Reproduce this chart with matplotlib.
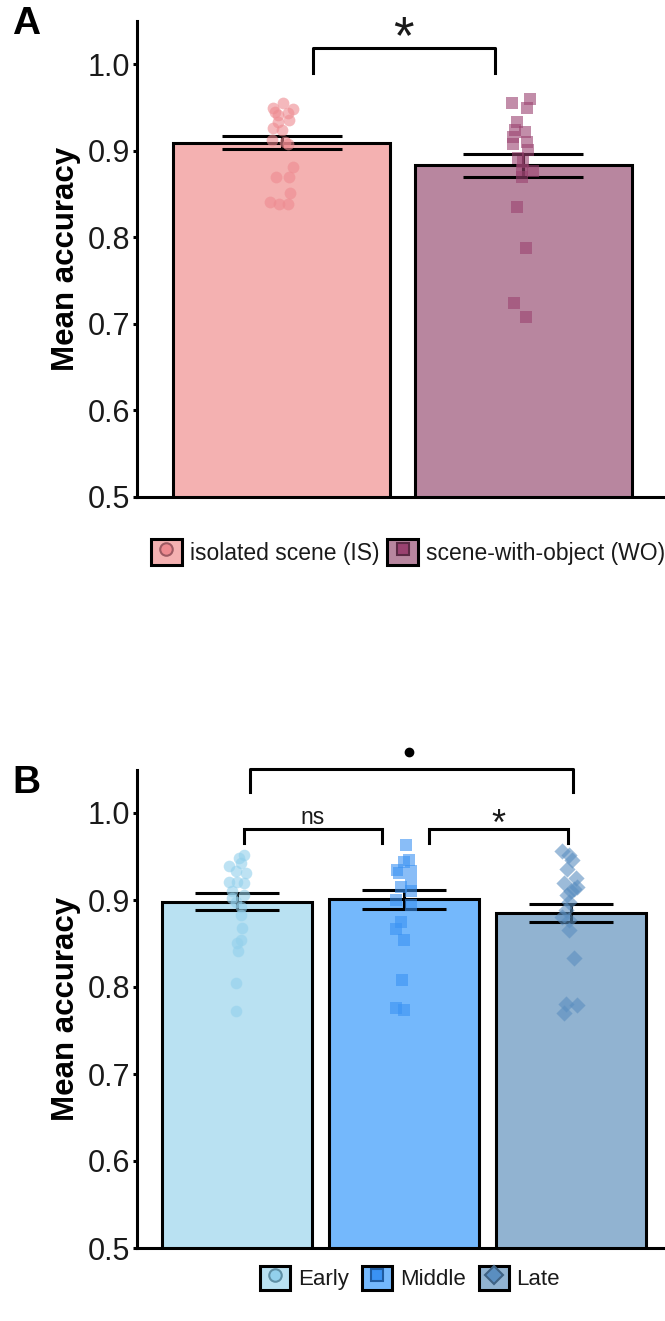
import matplotlib
matplotlib.use("Agg")
import matplotlib.pyplot as plt
from matplotlib.patches import Patch
from matplotlib.lines import Line2D

plt.rcParams['font.family'] = ['Liberation Sans', 'DejaVu Sans']

# ---------------- Data ----------------
# Panel A
a_labels = ["isolated scene (IS)", "scene-with-object (WO)"]
a_means = [0.909, 0.883]
a_err = [0.0075, 0.013]
a_is = [0.955, 0.949, 0.948, 0.945, 0.943, 0.941, 0.935, 0.933, 0.926, 0.924,
        0.912, 0.910, 0.908, 0.881, 0.870, 0.870, 0.851, 0.841, 0.838, 0.838]
a_is_jit = [0.006, -0.035, 0.048, -0.027, 0.027, -0.014, 0.031, -0.014, -0.035, 0.002,
            -0.039, 0.014, 0.027, 0.048, -0.023, 0.031, 0.035, -0.048, -0.010, 0.027]
a_wo = [0.955, 0.960, 0.949, 0.933, 0.924, 0.922, 0.916, 0.910, 0.908, 0.901,
        0.891, 0.887, 0.878, 0.876, 0.870, 0.835, 0.787, 0.724, 0.708]
a_wo_jit = [-0.046, 0.029, 0.017, -0.025, -0.033, 0.008, -0.041, 0.017, -0.041, 0.021,
            -0.021, 0.0, -0.004, 0.041, -0.004, -0.025, 0.012, -0.037, 0.012]

# Panel B
b_labels = ["Early", "Middle", "Late"]
b_means = [0.898, 0.901, 0.885]
b_err = [0.010, 0.011, 0.010]
b_early = [0.952, 0.948, 0.943, 0.939, 0.933, 0.931, 0.921, 0.921, 0.919, 0.910, 0.906,
           0.902, 0.898, 0.892, 0.883, 0.868, 0.854, 0.851, 0.841, 0.805, 0.772]
b_early_jit = [0.042, 0.012, 0.024, -0.048, -0.006, 0.054, -0.048, 0.0, 0.042, -0.030, 0.042,
               -0.030, -0.006, 0.024, 0.024, 0.030, 0.024, 0.0, 0.006, -0.006, -0.006]
b_middle = [0.963, 0.946, 0.944, 0.934, 0.933, 0.931, 0.919, 0.915, 0.910, 0.900,
            0.894, 0.875, 0.867, 0.854, 0.808, 0.776, 0.774]
b_middle_jit = [0.012, 0.030, 0.0, -0.042, 0.042, -0.030, 0.042, -0.018, 0.042, -0.048,
                0.042, -0.018, -0.048, 0.0, -0.012, -0.048, 0.0]
b_late = [0.956, 0.952, 0.946, 0.936, 0.925, 0.919, 0.915, 0.913, 0.910, 0.906,
          0.898, 0.889, 0.881, 0.877, 0.866, 0.833, 0.781, 0.779, 0.770]
b_late_jit = [-0.051, -0.009, 0.009, -0.021, 0.033, -0.039, 0.039, 0.021, 0.003, -0.021,
              -0.009, -0.027, -0.051, -0.009, -0.009, 0.021, -0.027, 0.039, -0.039]

yticks = [0.5, 0.6, 0.7, 0.8, 0.9, 1.0]
ytick_labels = ["0.5", "0.6", "0.7", "0.8", "0.9", "1.0"]

# ---------------- Styles ----------------
a_bar_colors = ["#F4B1B1", "#B8869F"]
a_pt_colors = ["#EE8A90", "#9A4270"]
a_pt_edge = ["#9E5A63", "#5C2A45"]
a_markers = ["o", "s"]
b_bar_colors = ["#B9E1F2", "#74B8FC", "#91B3D1"]
b_pt_colors = ["#92D0EC", "#3A92F3", "#5A8EC0"]
b_pt_edge = ["#5E8FA5", "#1F5BA0", "#3F6283"]
b_markers = ["o", "s", "D"]

W, H = 665, 1321
fig = plt.figure(figsize=(W / 100, H / 100), dpi=100)

LW = 2.2
TXT = "#1a1a1a"


def style_axis(ax, xlim):
    ax.set_xlim(*xlim)
    ax.set_ylim(0.5, 1.05)
    for s in ["top", "right"]:
        ax.spines[s].set_visible(False)
    for s in ["left", "bottom"]:
        ax.spines[s].set_linewidth(LW)
        ax.spines[s].set_color("black")
    ax.set_xticks([])
    ax.set_yticks(yticks)
    ax.set_yticklabels(ytick_labels)
    ax.tick_params(axis="y", length=3, width=LW, labelsize=22, colors="black",
                   labelcolor=TXT, pad=2)
    ax.set_ylabel("Mean accuracy", fontsize=22.5, fontweight="bold", labelpad=5)


def bracket(ax, x1, x2, y_top, y_bot, label, fs, dy, lw=LW):
    ax.plot([x1, x1, x2, x2], [y_bot, y_top, y_top, y_bot], color="black",
            lw=lw, clip_on=False, solid_joinstyle="miter", zorder=6)
    ax.text((x1 + x2) / 2, y_top + dy, label, ha="center", va="center",
            fontsize=fs, color=TXT, clip_on=False)


# ---------------- Panel A ----------------
axA = fig.add_axes([137 / W, (H - 497) / H, 531 / W, 476.3 / H])
xa = [1, 2]
axA.bar(xa, a_means, width=0.9, color=a_bar_colors, edgecolor="black",
        linewidth=LW, zorder=2)
axA.errorbar(xa, a_means, yerr=a_err, fmt="none", ecolor="black",
             elinewidth=LW, capsize=43.5, capthick=LW, zorder=3)
a_pts = [a_is, a_wo]
a_jits = [a_is_jit, a_wo_jit]
for i in range(2):
    axA.scatter([xa[i] + j for j in a_jits[i]], a_pts[i], marker=a_markers[i],
                s=72, color=a_pt_colors[i], alpha=0.6, linewidths=0, zorder=4)
style_axis(axA, (0.4, 2.6))
axA.text(1.505, 1.029, "*", ha="center", va="center", fontsize=38, color=TXT)
axA.plot([1.13, 1.13, 1.884, 1.884], [0.990, 1.019, 1.019, 0.990],
         color="black", lw=LW, clip_on=False, zorder=6)

handlesA = []
for i in range(2):
    handlesA.append((Patch(facecolor=a_bar_colors[i], edgecolor="black", linewidth=LW),
                     Line2D([], [], marker=a_markers[i], ls="", ms=9,
                            mfc=a_pt_colors[i], mec=a_pt_edge[i], mew=1.5)))
legA = fig.legend(handlesA, a_labels, loc="center", bbox_to_anchor=(408 / W, 1 - 552 / H),
                  ncol=2, frameon=False, fontsize=16.5, handlelength=1.35,
                  handleheight=1.35, handletextpad=0.35, columnspacing=0.35)
for t in legA.get_texts():
    t.set_color(TXT)

fig.text(12 / W, 1 - 24 / H, "A", fontsize=28, fontweight="bold", va="center", ha="left")

# ---------------- Panel B ----------------
axB = fig.add_axes([137 / W, 73 / H, 534 / W, 478.5 / H])
xb = [1, 2, 3]
axB.bar(xb, b_means, width=0.9, color=b_bar_colors, edgecolor="black",
        linewidth=LW, zorder=2)
axB.errorbar(xb, b_means, yerr=b_err, fmt="none", ecolor="black",
             elinewidth=LW, capsize=30, capthick=LW, zorder=3)
b_pts = [b_early, b_middle, b_late]
b_jits = [b_early_jit, b_middle_jit, b_late_jit]
b_sizes = [70, 72, 68]
for i in range(3):
    axB.scatter([xb[i] + j for j in b_jits[i]], b_pts[i], marker=b_markers[i],
                s=b_sizes[i], color=b_pt_colors[i], alpha=0.6, linewidths=0, zorder=4)
style_axis(axB, (0.4, 3.6))

axB.plot([1.08, 1.08, 3.015, 3.015], [1.024, 1.051, 1.051, 1.024],
         color="black", lw=LW, clip_on=False, zorder=6)
axB.plot([2.03], [1.070], marker="o", ms=6, color="black", clip_on=False)
bracket(axB, 1.04, 1.87, 0.982, 0.966, "ns", 16.5, 0.013)
bracket(axB, 2.15, 2.98, 0.982, 0.966, "*", 26, 0.004)

handlesB = []
for i in range(3):
    handlesB.append((Patch(facecolor=b_bar_colors[i], edgecolor="black", linewidth=LW),
                     Line2D([], [], marker=b_markers[i], ls="", ms=9,
                            mfc=b_pt_colors[i], mec=b_pt_edge[i], mew=1.5)))
legB = fig.legend(handlesB, b_labels, loc="center", bbox_to_anchor=(410 / W, 1 - 1278 / H),
                  ncol=3, frameon=False, fontsize=16, handlelength=1.35,
                  handleheight=1.35, handletextpad=0.35, columnspacing=0.6)
for t in legB.get_texts():
    t.set_color(TXT)

fig.text(12 / W, 1 - 783 / H, "B", fontsize=28, fontweight="bold", va="center", ha="left")

fig.savefig("out.png", dpi=100)
